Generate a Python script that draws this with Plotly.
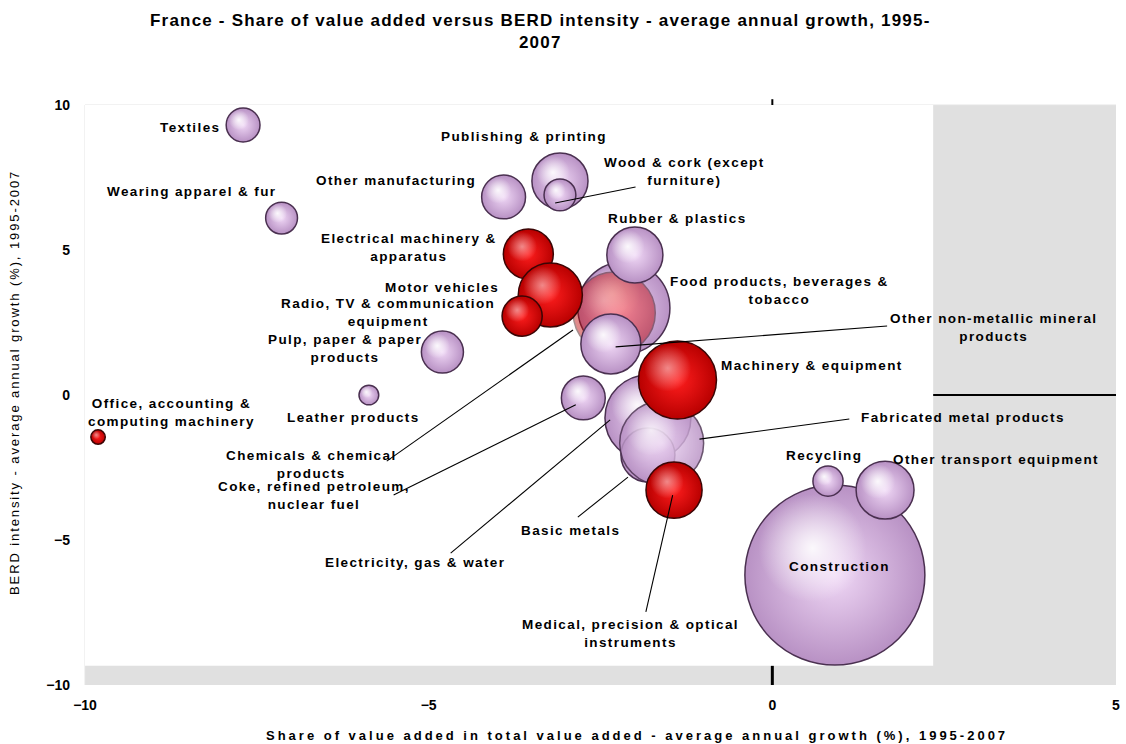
import math
import plotly.graph_objects as go

# Sectors, in drawing order (back to front)
sectors = [
    "Construction", "Recycling", "Other transport equipment",
    "Coke, refined petroleum, nuclear fuel", "Food products, beverages & tobacco",
    "Electricity, gas & water", "Basic metals", "Fabricated metal products",
    "Chemicals & chemical products", "Publishing & printing",
    "Wood & cork (except furniture)", "Other manufacturing", "Textiles",
    "Wearing apparel & fur", "Pulp, paper & paper products", "Leather products",
    "Rubber & plastics", "Other non-metallic mineral products",
    "Electrical machinery & apparatus", "Motor vehicles",
    "Radio, TV & communication equipment", "Machinery & equipment",
    "Medical, precision & optical instruments", "Office, accounting & computing machinery",
]
# Share of value added in total value added - average annual growth (%), 1995-2007
va_growth = [0.91, 0.81, 1.64, -2.75, -2.16, -1.81, -1.81, -1.61, -2.30, -3.09,
             -3.09, -3.91, -7.70, -7.14, -4.80, -5.87, -2.00, -2.35, -3.55, -3.23,
             -3.64, -1.38, -1.43, -9.81]
# BERD intensity - average annual growth (%), 1995-2007
berd_growth = [-6.21, -2.97, -3.28, -0.10, 3.00, -0.79, -2.07, -1.66, 2.83, 7.38,
               6.90, 6.83, 9.31, 6.10, 1.48, 0.00, 4.83, 1.76, 4.86, 3.45,
               2.72, 0.52, -3.28, -1.45]
# Bubble size: share of value added (%)
va_share = [12.46, 0.35, 1.29, 0.74, 3.26, 2.84, 1.12, 2.71, 2.59, 1.21,
            0.39, 0.74, 0.44, 0.39, 0.68, 0.15, 1.21, 1.38, 0.96, 1.58,
            0.62, 2.34, 1.21, 0.08]
# Sectors drawn in red
red_sector = [0, 0, 0, 0, 0, 0, 0, 0, 1, 0, 0, 0, 0, 0, 0, 0, 0, 0, 1, 1, 1, 1, 1, 1]
# Bubble opacity
bubble_opacity = [1, 1, 1, 1, 1, 1, 1, 0.82, 0.45, 1, 1, 1, 1, 1, 1, 1, 1, 1,
                  1, 1, 1, 1, 1, 1]

# Sector labels: text, x, y, horizontal anchor
labels = [
    ("Textiles", -8.01, 9.24, "right"),
    ("Publishing & printing", -3.62, 8.93, "center"),
    ("Wood & cork (except<br>furniture)", -1.28, 7.69, "center"),
    ("Other manufacturing", -5.48, 7.41, "center"),
    ("Wearing apparel & fur", -8.45, 7.03, "center"),
    ("Rubber & plastics", -1.38, 6.07, "center"),
    ("Electrical machinery &<br>apparatus", -5.29, 5.07, "center"),
    ("Motor vehicles", -4.81, 3.72, "center"),
    ("Radio, TV & communication<br>equipment", -5.59, 2.86, "center"),
    ("Food products, beverages &<br>tobacco", 0.10, 3.59, "center"),
    ("Other non-metallic mineral<br>products", 3.22, 2.34, "center"),
    ("Pulp, paper & paper<br>products", -6.22, 1.62, "center"),
    ("Machinery & equipment", 0.57, 1.03, "center"),
    ("Office, accounting &<br>computing machinery", -8.74, -0.62, "center"),
    ("Leather products", -6.09, -0.79, "center"),
    ("Fabricated metal products", 2.77, -0.79, "center"),
    ("Chemicals & chemical<br>products", -6.71, -2.41, "center"),
    ("Recycling", 0.75, -2.10, "center"),
    ("Other transport equipment", 3.26, -2.21, "center"),
    ("Coke, refined petroleum,<br>nuclear fuel", -6.67, -3.48, "center"),
    ("Basic metals", -2.94, -4.66, "center"),
    ("Electricity, gas & water", -5.20, -5.76, "center"),
    ("Construction", 0.97, -5.93, "center"),
    ("Medical, precision & optical<br>instruments", -2.06, -8.21, "center"),
]

# Leader lines from labels to bubbles: (x0, y0, x1, y1)
leaders = [
    (-1.99, 7.17, -3.16, 6.62),
    (1.67, 2.38, -2.28, 1.66),
    (1.12, -0.83, -1.06, -1.52),
    (-5.61, -2.28, -2.90, 2.24),
    (-5.51, -3.45, -2.86, -0.34),
    (-4.68, -5.45, -2.36, -0.86),
    (-2.83, -4.21, -2.10, -2.83),
    (-1.84, -7.48, -1.45, -3.45),
]

X_RANGE = [-10, 5]
Y_RANGE = [-10, 10]
W, H = 1126, 744
M = dict(l=85, r=6, t=105, b=59)
PX_X = (W - M["l"] - M["r"]) / (X_RANGE[1] - X_RANGE[0])
PX_Y = (H - M["t"] - M["b"]) / (Y_RANGE[1] - Y_RANGE[0])
R_MAX = 90  # radius in px of the largest bubble

FONT = "Liberation Sans, Arial, sans-serif"

fig = go.Figure()

vmax = max(va_share)
for name, x, y, v, red, op in zip(sectors, va_growth, berd_growth, va_share,
                                  red_sector, bubble_opacity):
    r = R_MAX * math.sqrt(v / vmax)
    if red:
        edge, centre, rim = "#B80000", "#FF1E1E", "#3A0505"
        hl_alpha = 0.5
    else:
        edge, centre, rim = "#B891C4", "#F0D8F6", "#4A3050"
        hl_alpha = 0.9
    fig.add_trace(go.Scatter(
        x=[x], y=[y], mode="markers", name=name, hoverinfo="skip",
        marker=dict(size=2 * r, color=edge, opacity=op,
                    gradient=dict(type="radial", color=centre),
                    line=dict(color=rim, width=1.5)),
    ))
    # soft specular highlight, upper left of the sphere
    fig.add_trace(go.Scatter(
        x=[x - 0.25 * r / PX_X], y=[y + 0.3 * r / PX_Y], mode="markers",
        hoverinfo="skip",
        marker=dict(size=1.2 * r, color="rgba(255,255,255,0)",
                    opacity=op,
                    gradient=dict(type="radial", color=f"rgba(255,255,255,{hl_alpha})"),
                    line=dict(width=0)),
    ))


def spaced(text, ls=1.4):
    return "<br>".join(f"<span style='letter-spacing:{ls}px'>{t}</span>"
                       for t in text.split("<br>"))


annotations = []
for text, x, y, anchor in labels:
    annotations.append(dict(
        x=x, y=y, xref="x", yref="y", text=spaced(text), showarrow=False,
        xanchor=anchor, yanchor="middle", align="center",
        font=dict(family=FONT, size=13.5, color="#000000", weight="bold"),
    ))

PW = W - M["l"] - M["r"]
PH = H - M["t"] - M["b"]
annotations += [
    dict(x=(542 - M["l"]) / PW, y=1.0, xref="paper", yref="paper",
         yshift=74,
         text=spaced("France - Share of value added versus BERD intensity - average annual growth, 1995-<br>2007", 1.2),
         showarrow=False, xanchor="center", yanchor="middle", align="center",
         font=dict(family=FONT, size=17, color="#000000", weight="bold")),
    dict(x=(639 - M["l"]) / PW, y=0, xref="paper", yref="paper",
         yshift=-50,
         text=spaced("Share of value added in total value added - average annual growth (%), 1995-2007", 3.0),
         showarrow=False, xanchor="center", yanchor="middle",
         font=dict(family=FONT, size=13, color="#000000", weight="bold")),
    dict(x=0, y=(685 - 383) / PH, xref="paper", yref="paper",
         xshift=-71,
         text=spaced("BERD intensity - average annual growth (%), 1995-2007", 1.9),
         textangle=-90, showarrow=False, xanchor="center", yanchor="middle",
         font=dict(family=FONT, size=13, color="#000000")),
]

shapes = [
    # white inner panel over the grey plot background
    dict(type="rect", xref="x", yref="y", x0=-10, x1=2.34, y0=-9.34, y1=10,
         fillcolor="#FFFFFF", line=dict(width=0), layer="below"),
    # faint frame along top and left
    dict(type="line", xref="paper", yref="paper", x0=0, x1=1, y0=1, y1=1,
         line=dict(color="#E4E4E4", width=1), layer="below"),
    dict(type="line", xref="paper", yref="paper", x0=0, x1=0, y0=0, y1=1,
         line=dict(color="#E4E4E4", width=1), layer="below"),
    # visible parts of the zero axes
    dict(type="line", xref="x", yref="y", x0=0, x1=0, y0=-10, y1=-9.34,
         line=dict(color="#000000", width=3)),
    dict(type="line", xref="x", yref="y", x0=2.34, x1=5, y0=0, y1=0,
         line=dict(color="#000000", width=2)),
    dict(type="line", xref="x", yref="paper", x0=0, x1=0, y0=1.0, y1=1.01,
         line=dict(color="#000000", width=2)),
]
for x0, y0, x1, y1 in leaders:
    shapes.append(dict(type="line", xref="x", yref="y", x0=x0, y0=y0, x1=x1, y1=y1,
                       line=dict(color="#000000", width=1.1), layer="above"))

fig.update_layout(
    width=W, height=H, margin=M,
    paper_bgcolor="#FFFFFF", plot_bgcolor="#E0E0E0",
    showlegend=False, hovermode=False,
    annotations=annotations, shapes=shapes,
    xaxis=dict(range=X_RANGE, tickvals=[-10, -5, 0, 5], showgrid=False, zeroline=False,
               showline=False, ticks="", ticklabelstandoff=10,
               tickfont=dict(family=FONT, size=14, color="#000000", weight="bold")),
    yaxis=dict(range=Y_RANGE, tickvals=[-10, -5, 0, 5, 10], showgrid=False, zeroline=False,
               showline=False, ticks="", ticklabelstandoff=14,
               tickfont=dict(family=FONT, size=14, color="#000000", weight="bold")),
)

fig.write_html("out.html")
